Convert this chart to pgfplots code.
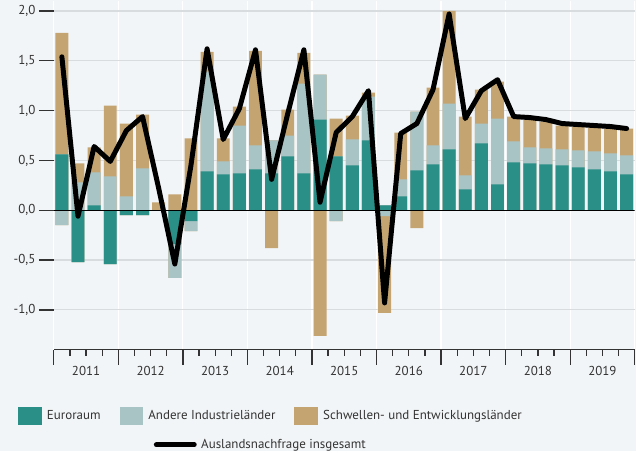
\documentclass[border=0pt]{standalone}
\usepackage{fontspec}
\setmainfont{PT Sans}
\usepackage{pgfplots}
\usepackage{pgfplotstable}
\pgfplotsset{compat=1.18}
\definecolor{cTeal}{RGB}{42,143,135}
\definecolor{cGray}{RGB}{169,196,197}
\definecolor{cTan}{RGB}{196,165,114}
\definecolor{cBg}{RGB}{242,245,247}
\definecolor{cGrid}{RGB}{217,220,222}
\definecolor{cText}{RGB}{51,51,51}

% i = quarter index (0 = 2011Q1), e = Euroraum, o = Andere Industrielaender,
% s = Schwellen- und Entwicklungslaender, t = Auslandsnachfrage insgesamt
\pgfplotstableread{
i e o s t
0 0.56 -0.15 1.22 1.54
1 -0.52 0.28 0.19 -0.06
2 0.05 0.33 0.25 0.64
3 -0.54 0.34 0.71 0.49
4 -0.05 0.14 0.73 0.80
5 -0.05 0.42 0.54 0.94
6 0.00 0.00 0.08 0.22
7 -0.34 -0.34 0.16 -0.54
8 -0.11 -0.10 0.72 0.45
9 0.39 1.00 0.20 1.62
10 0.36 0.13 0.23 0.71
11 0.37 0.48 0.19 1.02
12 0.41 0.24 0.95 1.61
13 0.37 0.33 -0.38 0.31
14 0.54 0.21 0.26 0.97
15 0.37 0.90 0.31 1.61
16 0.91 0.45 -1.26 0.08
17 0.54 -0.11 0.38 0.78
18 0.45 0.26 0.24 0.94
19 0.70 0.44 0.04 1.20
20 0.05 -0.06 -0.97 -0.93
21 0.14 0.17 0.47 0.77
22 0.40 0.59 -0.18 0.87
23 0.46 0.19 0.58 1.21
24 0.61 0.46 0.93 1.97
25 0.21 0.14 0.59 0.92
26 0.67 0.20 0.34 1.20
27 0.26 0.66 0.37 1.31
28 0.48 0.21 0.25 0.94
29 0.47 0.16 0.28 0.93
30 0.46 0.16 0.27 0.91
31 0.45 0.16 0.24 0.87
32 0.43 0.17 0.24 0.86
33 0.41 0.18 0.24 0.85
34 0.39 0.18 0.25 0.84
35 0.36 0.19 0.27 0.82
}\data

\pgfplotsset{
  mybar/.style={ybar, bar width=0.8, bar shift=0pt, draw=none, forget plot},
  legbox/.style={draw=none, legend image code/.code={\fill (0bp,-9.5bp) rectangle (24bp,9.5bp);}},
  legline/.style={black, line width=5bp, line cap=round,
    legend image code/.code={\draw[overlay] (37bp,0bp) -- (75bp,0bp);}},
}

\begin{document}
\begin{tikzpicture}[font=\fontsize{13bp}{15bp}\selectfont]
\fill[cBg] (0,0) rectangle (638bp,453bp);
\begin{axis}[
  at={(54bp,102bp)}, anchor=south west,
  scale only axis, width=583bp, height=350bp,
  xmin=-0.5, xmax=35.5, ymin=-1.4, ymax=2.1,
  axis x line*=bottom, axis y line*=left,
  y axis line style={draw=none},
  x axis line style={cText, line width=1.2bp},
  tick align=outside,
  major tick length=15bp, minor tick length=6bp,
  tick style={cText, line width=1.3bp},
  xtick={-0.5,3.5,...,35.5}, xticklabels={},
  minor x tick num=3,
  extra x ticks={1.5,5.5,...,33.5},
  extra x tick labels={2011,2012,2013,2014,2015,2016,2017,2018,2019},
  extra x tick style={xmajorgrids=false, tick style={draw=none},
    xticklabel style={yshift=2bp}},
  xticklabel style={text=cText},
  ytick={-1,-0.5,0,0.5,1,1.5,2},
  yticklabels={{-1,0},{-0,5},{0,0},{0,5},{1,0},{1,5},{2,0}},
  yticklabel style={text=cText},
  ymajorgrids, xmajorgrids,
  every axis y grid/.style={cGrid, line width=1.2bp},
  every axis x grid/.style={white, line width=1.2bp},
  legend columns=3,
  legend cell align=left,
  legend style={at={(-0.0618,-0.1624)}, anchor=north west, draw=none, fill=none,
    inner sep=0pt, row sep=12bp, cells={text=cText},
    /tikz/every odd column/.append style={column sep=3bp},
    /tikz/every even column/.append style={column sep=17bp}},
]
\addlegendimage{legbox, fill=cTeal}\addlegendentry{Euroraum}
\addlegendimage{legbox, fill=cGray}\addlegendentry{Andere Industrieländer}
\addlegendimage{legbox, fill=cTan}\addlegendentry{Schwellen- und Entwicklungsländer}
\addlegendimage{empty legend}\addlegendentry{}
\addlegendimage{legline}\addlegendentry{\makebox[0pt][l]{\hspace*{53bp}Auslandsnachfrage insgesamt}}
\addlegendimage{empty legend}\addlegendentry{}

% positive side (drawn as cumulative overlapping bars)
\addplot[mybar, fill=cTan] table[x=i, y expr={max(\thisrow{e},0)+max(\thisrow{o},0)+max(\thisrow{s},0)}]{\data};
\addplot[mybar, fill=cGray] table[x=i, y expr={max(\thisrow{e},0)+max(\thisrow{o},0)}]{\data};
\addplot[mybar, fill=cTeal] table[x=i, y expr={max(\thisrow{e},0)}]{\data};
% negative side
\addplot[mybar, fill=cTan] table[x=i, y expr={min(\thisrow{e},0)+min(\thisrow{o},0)+min(\thisrow{s},0)}]{\data};
\addplot[mybar, fill=cGray] table[x=i, y expr={min(\thisrow{e},0)+min(\thisrow{o},0)}]{\data};
\addplot[mybar, fill=cTeal] table[x=i, y expr={min(\thisrow{e},0)}]{\data};

\addplot[black, line width=0.9bp, forget plot] coordinates {(-0.5,0) (35.5,0)};
\addplot[black, line width=5bp, line join=round, line cap=round, forget plot] table[x=i, y=t]{\data};
\end{axis}
\end{tikzpicture}
\end{document}
